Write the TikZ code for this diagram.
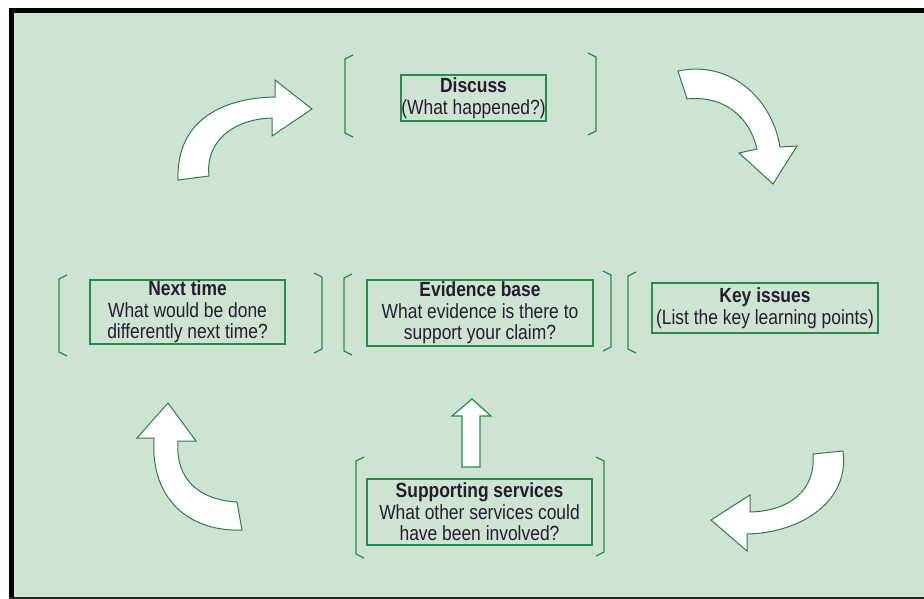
\documentclass[tikz,border=0pt]{standalone}
\usepackage{fontspec}
\setmainfont{Liberation Sans}[FakeStretch=0.85]
\definecolor{bg}{RGB}{206,227,210}
\definecolor{gline}{RGB}{38,140,82}
\definecolor{aline}{RGB}{45,125,75}
\definecolor{txt}{RGB}{35,31,45}
\newcommand\lbrk[3]{\draw[brk] ({#1+8},#2) -- (#1,{#2+4}) -- (#1,{#3-4}) -- ({#1+8},#3);}
\newcommand\rbrk[3]{\draw[brk] ({#1-8},#2) -- (#1,{#2+4}) -- (#1,{#3-4}) -- ({#1-8},#3);}
\begin{document}
\begin{tikzpicture}[x=1pt,y=-1pt,
  box/.style={draw=gline, line width=1.3pt, inner sep=0pt, align=center, text=txt,
    font=\fontsize{20.5}{21.5}\selectfont},
  brk/.style={draw=gline, line width=1.3pt},
  blockarrow/.style={draw=aline, fill=white, line width=1pt, line join=miter}]
\useasboundingbox (0,0) rectangle (924,599);
% background and frame
\fill[bg] (11.5,10.5) rectangle (924,597);
\draw[line width=5pt] (11.5,599) -- (11.5,10.5) -- (924,10.5);
\draw[line width=1.5pt, black!85] (9,598) -- (924,598);
% boxes
\node[box, minimum width=145, minimum height=46] (discuss) at (473.5,98)
  {\textbf{Discuss}\\(What happened?)};
\node[box, minimum width=195, minimum height=64] (next) at (187.5,312)
  {\textbf{Next time}\\What would be done\\differently next time?};
\node[box, minimum width=226, minimum height=66] (evidence) at (480,313)
  {\textbf{Evidence base}\\What evidence is there to\\support your claim?};
\node[box, minimum width=226, minimum height=50] (key) at (765,308)
  {\textbf{Key issues}\\(List the key learning points)};
\node[box, minimum width=225, minimum height=66] (support) at (479.5,512)
  {\textbf{Supporting services}\\What other services could\\have been involved?};
% brackets
\lbrk{345}{55}{137}  \rbrk{596}{53}{135}
\lbrk{59}{275}{356}  \rbrk{322}{273}{353}
\lbrk{344}{274}{355} \rbrk{611}{271}{351}
\lbrk{628}{272}{353}
\lbrk{356}{457}{558} \rbrk{604}{457}{556}
% curved block arrows
\draw[blockarrow] (178,180) .. controls (176,122) and (220,98) .. (275,97)
  -- (275,80) -- (312,109) -- (272,136) -- (272,118)
  .. controls (235,119) and (205,140) .. (209,176) -- cycle;
\draw[blockarrow] (678,71) .. controls (730,60) and (772,98) .. (780,147)
  -- (797,146) -- (773,184) -- (739,153) -- (757,149)
  .. controls (750,118) and (725,95) .. (687,99) -- cycle;
\draw[blockarrow] (843,451) .. controls (850,502) and (800,533) .. (747,534)
  -- (747,551) -- (711,520) -- (750,495) -- (750,512)
  .. controls (790,511) and (816,490) .. (813,454) -- cycle;
\draw[blockarrow] (154,438) .. controls (150,500) and (190,532) .. (242,530)
  -- (237,502) .. controls (200,500) and (175,480) .. (178,441)
  -- (196,441) -- (168,403) -- (137,438) -- cycle;
% straight up arrow
\draw[blockarrow, draw=gline, line width=1.2pt] (462,467) -- (462,416) -- (452,416) -- (472,399)
  -- (491,416) -- (480,416) -- (480,467) -- cycle;
\end{tikzpicture}
\end{document}
